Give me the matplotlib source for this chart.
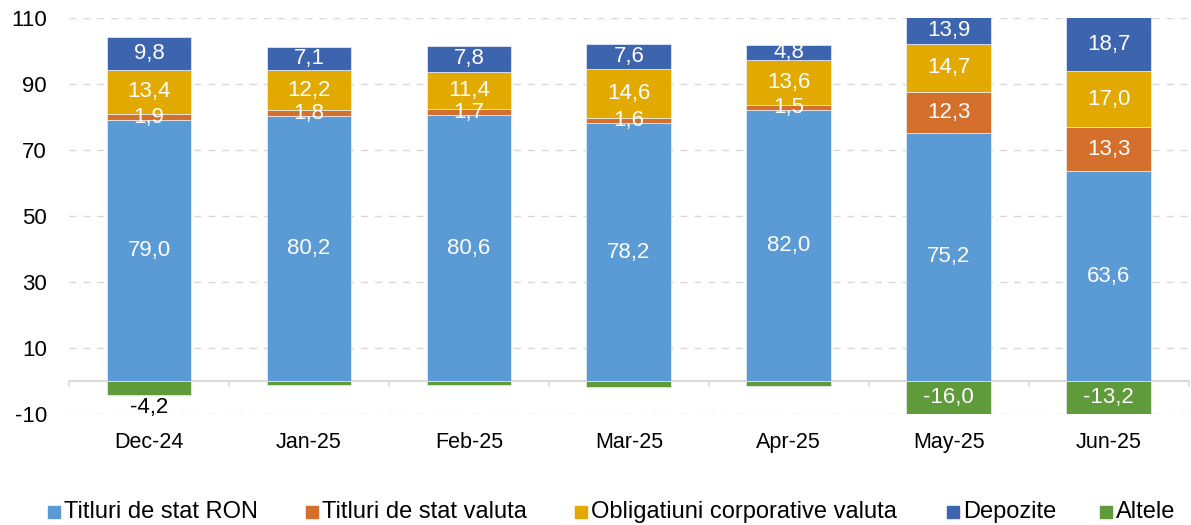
import numpy as np
import matplotlib.pyplot as plt

plt.rcParams['font.family'] = ['Liberation Sans', 'DejaVu Sans']
plt.rcParams['axes.unicode_minus'] = False

# date
luni = ['Dec-24', 'Jan-25', 'Feb-25', 'Mar-25', 'Apr-25', 'May-25', 'Jun-25']
titluri_ron = [79.0, 80.2, 80.6, 78.2, 82.0, 75.2, 63.6]
titluri_valuta = [1.9, 1.8, 1.7, 1.6, 1.5, 12.3, 13.3]
obligatiuni = [13.4, 12.2, 11.4, 14.6, 13.6, 14.7, 17.0]
depozite = [9.8, 7.1, 7.8, 7.6, 4.8, 13.9, 18.7]
altele = [-4.2, -1.1, -1.3, -1.8, -1.6, -16.0, -13.2]

serii = ['Titluri de stat RON', 'Titluri de stat valuta',
         'Obligatiuni corporative valuta', 'Depozite', 'Altele']
culori = ['#5B9BD5', '#D46F2C', '#E2AA00', '#3D64AE', '#5F9A3B']

ymin, ymax = -10, 110

W, H = 1191, 525
fig = plt.figure(figsize=(W / 100, H / 100), dpi=100)
ax = fig.add_axes([0.058, 0.211, 0.94, 0.755])

x = np.arange(len(luni))
w = 0.53

def eticheta(val):
    return f'{val:.1f}'.replace('.', ',')

bottom = np.zeros(len(luni))
for nume, vals, c in zip(serii[:4], [titluri_ron, titluri_valuta, obligatiuni, depozite], culori[:4]):
    vals = np.array(vals)
    ax.bar(x, vals, w, bottom=bottom, color=c, edgecolor='#EAF1FA', linewidth=0.5, zorder=3)
    for i in range(len(luni)):
        lo = max(bottom[i], ymin)
        hi = min(bottom[i] + vals[i], ymax)
        ax.text(x[i], (lo + hi) / 2, eticheta(vals[i]), ha='center', va='center',
                color='white', fontsize=16, zorder=4)
    bottom = bottom + vals

# Altele (negativ)
ax.bar(x, altele, w, color=culori[4], edgecolor='#EAF1FA', linewidth=0.5, zorder=3)
for i, v in enumerate(altele):
    if v <= -10:
        ax.text(x[i], (0 + max(v, ymin)) / 2, eticheta(v), ha='center', va='center',
                color='white', fontsize=16, zorder=4)
    elif v < -3:
        ax.text(x[i], v - 3.8, eticheta(v), ha='center', va='center',
                color='black', fontsize=16, zorder=4)

ax.set_ylim(ymin, ymax)
ax.set_xlim(-0.5, len(luni) - 0.5)
ax.set_yticks(range(-10, 111, 20))
ax.yaxis.grid(True, linestyle=(0, (5, 5)), color='#D9D9D9', linewidth=1, zorder=0)
ax.axhline(0, color='#D9D9D9', linewidth=1.5, zorder=2)

for s in ax.spines.values():
    s.set_visible(False)

ax.set_xticks(x)
ax.set_xticklabels(luni, fontsize=15.5)
ax.tick_params(axis='x', length=0, pad=13)
ax.tick_params(axis='y', length=0, labelsize=16, pad=16)

# mici semne pe axa la granitele categoriilor
for b in np.arange(-0.5, len(luni), 1.0):
    ax.plot([b, b], [0, -1.6], color='#D9D9D9', linewidth=1.2, zorder=2, clip_on=False)

# legenda, pozitionata manual ca in original
leg_x = [54, 312, 581, 953, 1106]
leg_y = 1 - 512 / H
for px, nume, c in zip(leg_x, serii, culori):
    fig.add_artist(plt.Line2D([px / W], [leg_y], marker='s', markersize=9,
                              color=c, linestyle='', transform=fig.transFigure))
    fig.text((px + 10) / W, leg_y, nume, ha='left', va='center', fontsize=17)

fig.savefig('out.png', dpi=100)
